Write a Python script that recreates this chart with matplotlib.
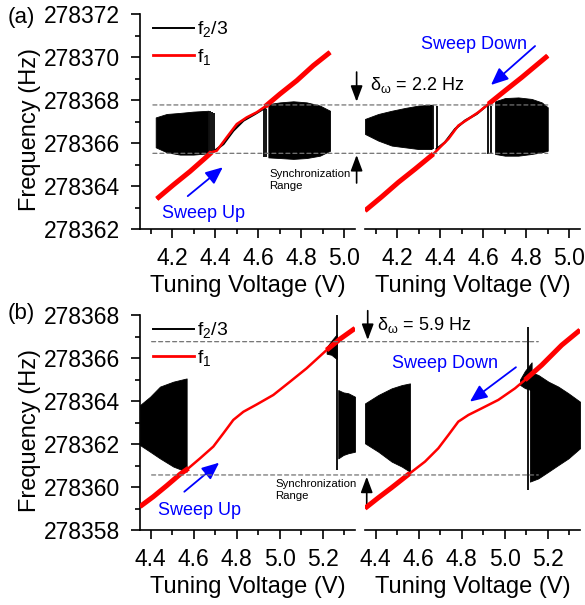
import matplotlib
matplotlib.use("Agg")
import matplotlib.pyplot as plt
import matplotlib.ticker as mticker
import numpy as np
from matplotlib.lines import Line2D
from matplotlib.patches import ConnectionPatch

plt.rcParams["font.family"] = ["Liberation Sans", "DejaVu Sans"]
plt.rcParams["mathtext.fontset"] = "custom"
plt.rcParams["mathtext.rm"] = "Liberation Sans"
plt.rcParams["mathtext.it"] = "Liberation Sans:italic"
plt.rcParams["mathtext.default"] = "regular"

# ---- (a) sweep up ----
au_red_x = [4.128, 4.205, 4.283, 4.360, 4.383, 4.407, 4.453, 4.500, 4.546, 4.593, 4.631, 4.701, 4.779, 4.856, 4.934]
au_red_y = [278363.40, 278364.05, 278364.68, 278365.36, 278365.57, 278365.64, 278366.26, 278366.88,
            278367.19, 278367.43, 278367.69, 278368.28, 278368.90, 278369.60, 278370.22]
au_lock = (4.383, 4.631)
au_blk_x = [4.394, 4.438, 4.484, 4.531, 4.585, 4.631]
au_blk_y = [278365.61, 278365.95, 278366.57, 278367.04, 278367.35, 278367.63]
au_band1_x = [4.123, 4.174, 4.236, 4.298, 4.368]
au_band1_hi = [278367.19, 278367.35, 278367.40, 278367.46, 278367.50]
au_band1_lo = [278365.80, 278365.57, 278365.46, 278365.46, 278365.52]
au_band2_x = [4.647, 4.701, 4.763, 4.825, 4.887, 4.934]
au_band2_hi = [278367.81, 278367.89, 278367.94, 278367.89, 278367.74, 278367.50]
au_band2_lo = [278365.33, 278365.30, 278365.26, 278365.30, 278365.41, 278365.64]
au_spike_x = [4.376, 4.383, 4.394, 4.627, 4.636]
au_spike_hi = [278367.50, 278367.45, 278367.40, 278367.66, 278367.60]
au_spike_lo = [278365.64, 278365.64, 278365.64, 278365.33, 278365.33]

# ---- (a) sweep down ----
ad_red_x = [4.050, 4.128, 4.205, 4.283, 4.368, 4.391, 4.438, 4.484, 4.531, 4.577, 4.624, 4.701, 4.779, 4.900]
ad_red_y = [278362.85, 278363.50, 278364.17, 278364.79, 278365.49, 278365.72, 278366.19, 278366.81,
            278367.12, 278367.43, 278367.81, 278368.43, 278369.05, 278370.06]
ad_lock = (4.368, 4.624)
ad_blk_x = [4.383, 4.422, 4.469, 4.515, 4.569, 4.616]
ad_blk_y = [278365.72, 278366.03, 278366.65, 278367.04, 278367.35, 278367.74]
ad_band1_x = [4.050, 4.112, 4.174, 4.236, 4.298, 4.360]
ad_band1_hi = [278367.12, 278367.35, 278367.50, 278367.63, 278367.74, 278367.78]
ad_band1_lo = [278366.42, 278366.11, 278365.88, 278365.80, 278365.72, 278365.72]
ad_band2_x = [4.655, 4.701, 4.763, 4.825, 4.872, 4.900]
ad_band2_hi = [278367.94, 278368.09, 278368.12, 278368.05, 278367.89, 278367.66]
ad_band2_lo = [278365.49, 278365.41, 278365.41, 278365.49, 278365.57, 278365.64]
ad_spike_x = [4.345, 4.357, 4.368, 4.383, 4.624, 4.636]
ad_spike_hi = [278367.78, 278367.78, 278367.78, 278367.70, 278367.81, 278367.70]
ad_spike_lo = [278365.72, 278365.72, 278365.72, 278365.72, 278365.49, 278365.49]

# ---- (b) sweep up ----
bu_red_x = [4.350, 4.412, 4.474, 4.536, 4.575, 4.629, 4.691, 4.738, 4.784, 4.831, 4.893, 4.970,
            5.048, 5.125, 5.218, 5.280, 5.350]
bu_red_y = [278359.09, 278359.55, 278360.06, 278360.59, 278360.87, 278361.33, 278361.88, 278362.50,
            278363.12, 278363.50, 278363.84, 278364.28, 278364.90, 278365.52, 278366.37, 278366.88, 278367.38]
bu_lock = (4.575, 5.218)
bu_band1_x = [4.350, 4.397, 4.443, 4.505, 4.567]
bu_band1_hi = [278363.81, 278364.20, 278364.67, 278364.90, 278365.05]
bu_band1_lo = [278361.95, 278361.64, 278361.33, 278360.95, 278360.71]
bu_band2_x = [5.272, 5.296, 5.319, 5.350]
bu_band2_hi = [278364.51, 278364.40, 278364.36, 278364.20]
bu_band2_lo = [278361.33, 278361.49, 278361.57, 278361.64]
bu_cloud_x = [5.218, 5.240, 5.265]
bu_cloud_hi = [278366.50, 278366.80, 278367.10]
bu_cloud_lo = [278366.20, 278366.15, 278365.95]
bu_spike_x = [5.265]
bu_spike_hi = [278368.0]
bu_spike_lo = [278360.79]

# ---- (b) sweep down ----
bd_red_x = [4.350, 4.412, 4.474, 4.559, 4.629, 4.691, 4.738, 4.784, 4.831, 4.893, 4.970, 5.048,
            5.094, 5.172, 5.265, 5.350]
bd_red_y = [278359.01, 278359.50, 278359.97, 278360.64, 278361.18, 278361.80, 278362.42, 278363.04,
            278363.35, 278363.66, 278364.05, 278364.59, 278364.98, 278365.67, 278366.60, 278367.30]
bd_lock = (4.559, 5.094)
bd_band1_x = [4.350, 4.412, 4.474, 4.521, 4.559]
bd_band1_hi = [278363.89, 278364.28, 278364.59, 278364.74, 278364.82]
bd_band1_lo = [278362.03, 278361.64, 278361.18, 278360.95, 278360.71]
bd_band2_x = [5.117, 5.156, 5.203, 5.249, 5.296, 5.350]
bd_band2_hi = [278365.36, 278365.21, 278364.90, 278364.67, 278364.36, 278363.97]
bd_band2_lo = [278360.25, 278360.40, 278360.71, 278361.02, 278361.33, 278361.80]
bd_cloud_x = [5.071, 5.094, 5.125]
bd_cloud_hi = [278365.00, 278365.40, 278365.80]
bd_cloud_lo = [278364.75, 278364.60, 278364.50]
bd_spike_x = [5.110]
bd_spike_hi = [278367.46]
bd_spike_lo = [278359.86]

# sync range marks (Hz)
a_sync = (278365.52, 278367.77)
b_sync = (278360.56, 278366.76)

W, H = 585, 605
fig = plt.figure(figsize=(W / 100, H / 100), dpi=100)

def box(x0, y0, w=215, h=215):
    return [x0 / W, 1 - (y0 + h) / H, w / W, h / H]

ax_au = fig.add_axes(box(140, 14))
ax_ad = fig.add_axes(box(365, 14))
ax_bu = fig.add_axes(box(140, 315))
ax_bd = fig.add_axes(box(365, 315))

def style(ax, xlim, ylim, xmaj, ymaj, left):
    ax.set_xlim(*xlim)
    ax.set_ylim(*ylim)
    ax.set_facecolor("none")
    for s in ["top", "right"]:
        ax.spines[s].set_visible(False)
    for s in ax.spines.values():
        s.set_linewidth(1.2)
    ax.xaxis.set_major_locator(mticker.FixedLocator(xmaj))
    ax.xaxis.set_minor_locator(mticker.MultipleLocator(0.1))
    ax.xaxis.set_major_formatter(mticker.FuncFormatter(lambda x, _: f"{x:.1f}"))
    ax.tick_params(axis="both", which="major", direction="out", length=6.5, width=1.2, labelsize=16.5)
    ax.tick_params(axis="both", which="minor", direction="out", length=3.8, width=1.2)
    ax.tick_params(axis="x", which="major", pad=6.5)
    ax.tick_params(axis="y", which="major", pad=8)
    ax.set_xlabel("Tuning Voltage (V)", fontsize=17, labelpad=3.5)
    if left:
        ax.yaxis.set_major_locator(mticker.FixedLocator(ymaj))
        ax.yaxis.set_minor_locator(mticker.MultipleLocator(1))
        ax.yaxis.set_major_formatter(mticker.FuncFormatter(lambda y, _: f"{y:.0f}"))
        ax.set_ylabel("Frequency (Hz)", fontsize=17)
        ax.yaxis.set_label_coords(-0.46, 0.465)
    else:
        ax.spines["left"].set_visible(False)
        ax.tick_params(axis="y", which="both", left=False, labelleft=False)

def draw(ax, red_x, red_y, lock, bands, spikes, blk=None, cloud=None):
    for bx, hi, lo in bands:
        ax.fill_between(bx, lo, hi, color="k", lw=0.6, zorder=2)
    sx, shi, slo = spikes
    ax.vlines(sx, slo, shi, color="k", lw=1.3, zorder=2)
    if cloud is not None:
        ax.fill_between(cloud[0], cloud[2], cloud[1], color="k", lw=0.6, zorder=2)
    if blk is not None:
        ax.plot(blk[0], blk[1], color="k", lw=1.6, zorder=3)
    rx = np.array(red_x)
    ry = np.array(red_y)
    ax.plot(rx, ry, color="#ff0000", lw=1.8, zorder=4, solid_capstyle="butt")
    lo_part = rx <= lock[0]
    hi_part = rx >= lock[1]
    ax.plot(rx[lo_part], ry[lo_part], color="#ff0000", lw=3.6, zorder=4, solid_capstyle="butt")
    ax.plot(rx[hi_part], ry[hi_part], color="#ff0000", lw=3.6, zorder=4, solid_capstyle="butt")

style(ax_au, (4.05, 5.05), (278362, 278372), [4.2, 4.4, 4.6, 4.8, 5.0], [278362, 278364, 278366, 278368, 278370, 278372], True)
style(ax_ad, (4.05, 5.05), (278362, 278372), [4.2, 4.4, 4.6, 4.8, 5.0], None, False)
style(ax_bu, (4.35, 5.35), (278358, 278368), [4.4, 4.6, 4.8, 5.0, 5.2], [278358, 278360, 278362, 278364, 278366, 278368], True)
style(ax_bd, (4.35, 5.35), (278358, 278368), [4.4, 4.6, 4.8, 5.0, 5.2], None, False)

draw(ax_au, au_red_x, au_red_y, au_lock,
     [(au_band1_x, au_band1_hi, au_band1_lo), (au_band2_x, au_band2_hi, au_band2_lo)],
     (au_spike_x, au_spike_hi, au_spike_lo), blk=(au_blk_x, au_blk_y))
draw(ax_ad, ad_red_x, ad_red_y, ad_lock,
     [(ad_band1_x, ad_band1_hi, ad_band1_lo), (ad_band2_x, ad_band2_hi, ad_band2_lo)],
     (ad_spike_x, ad_spike_hi, ad_spike_lo), blk=(ad_blk_x, ad_blk_y))
draw(ax_bu, bu_red_x, bu_red_y, bu_lock,
     [(bu_band1_x, bu_band1_hi, bu_band1_lo), (bu_band2_x, bu_band2_hi, bu_band2_lo)],
     (bu_spike_x, bu_spike_hi, bu_spike_lo), cloud=(bu_cloud_x, bu_cloud_hi, bu_cloud_lo))
draw(ax_bd, bd_red_x, bd_red_y, bd_lock,
     [(bd_band1_x, bd_band1_hi, bd_band1_lo), (bd_band2_x, bd_band2_hi, bd_band2_lo)],
     (bd_spike_x, bd_spike_hi, bd_spike_lo), cloud=(bd_cloud_x, bd_cloud_hi, bd_cloud_lo))

# dashed sync-range lines spanning both panels
for axl, axr, ys, x0, x1 in [(ax_au, ax_ad, a_sync, 4.11, 4.90), (ax_bu, ax_bd, b_sync, 4.404, 5.156)]:
    for y in ys:
        con = ConnectionPatch(xyA=(x0, y), coordsA=axl.transData, xyB=(x1, y), coordsB=axr.transData,
                              color="0.45", lw=0.9, linestyle=(0, (3.2, 2.4)), zorder=5)
        fig.add_artist(con)

# legends
for ax in [ax_au, ax_bu]:
    handles = [Line2D([], [], color="k", lw=1.4), Line2D([], [], color="#ff0000", lw=2.0)]
    ax.legend(handles, [r"$\mathregular{f_2/3}$", r"$\mathregular{f_1}$"], loc="upper left",
              bbox_to_anchor=(0.06, 0.975), frameon=False, fontsize=14, handlelength=2.1,
              handletextpad=0.15, borderpad=0, borderaxespad=0, labelspacing=0.4)

# delta annotations
blk_arrow = dict(arrowstyle="-|>,head_length=0.8,head_width=0.3", color="k", lw=1.2,
                 mutation_scale=12, shrinkA=0, shrinkB=0)
ax_ad.annotate("", xy=(4.011, 278367.92), xytext=(4.011, 278369.30), arrowprops=blk_arrow, annotation_clip=False)
ax_ad.annotate("", xy=(4.011, 278365.44), xytext=(4.011, 278364.14), arrowprops=blk_arrow, annotation_clip=False)
ax_ad.text(4.073, 278368.47, r"$\delta_{\omega}$ = 2.2 Hz", fontsize=13, va="baseline", ha="left")
ax_bd.annotate("", xy=(4.3626, 278366.84), xytext=(4.3626, 278368.2), arrowprops=blk_arrow, annotation_clip=False)
ax_bd.annotate("", xy=(4.358, 278360.48), xytext=(4.358, 278359.08), arrowprops=blk_arrow, annotation_clip=False)
ax_bd.text(4.404, 278367.30, r"$\delta_{\omega}$ = 5.9 Hz", fontsize=13, va="baseline", ha="left")

ax_au.text(4.65, 278364.8, "Synchronization\nRange", fontsize=8.2, va="top", ha="left", linespacing=1.25)
ax_bu.text(4.978, 278360.35, "Synchronization\nRange", fontsize=8.2, va="top", ha="left", linespacing=1.25)

# sweep arrows
blue_arrow = dict(arrowstyle="-|>,head_length=0.8,head_width=0.35", color="#0000ff", lw=1.3,
                  mutation_scale=13, shrinkA=0, shrinkB=0)
ax_au.annotate("", xy=(4.435, 278364.87), xytext=(4.272, 278363.53), arrowprops=blue_arrow)
ax_au.text(4.151, 278362.51, "Sweep Up", color="#0000ff", fontsize=13, va="baseline")
ax_ad.annotate("", xy=(4.636, 278368.70), xytext=(4.841, 278370.51), arrowprops=blue_arrow)
ax_ad.text(4.310, 278370.37, "Sweep Down", color="#0000ff", fontsize=13, va="baseline")
ax_bu.annotate("", xy=(4.718, 278361.13), xytext=(4.556, 278359.78), arrowprops=blue_arrow)
ax_bu.text(4.434, 278358.70, "Sweep Up", color="#0000ff", fontsize=13, va="baseline")
ax_bd.annotate("", xy=(4.838, 278363.97), xytext=(5.052, 278365.57), arrowprops=blue_arrow)
ax_bd.text(4.474, 278365.52, "Sweep Down", color="#0000ff", fontsize=13, va="baseline")

fig.text(8 / W, 1 - 18 / H, "(a)", fontsize=16, va="center", ha="left")
fig.text(8 / W, 1 - 313 / H, "(b)", fontsize=16, va="center", ha="left")

fig.savefig("out.png", dpi=100, facecolor="white")
